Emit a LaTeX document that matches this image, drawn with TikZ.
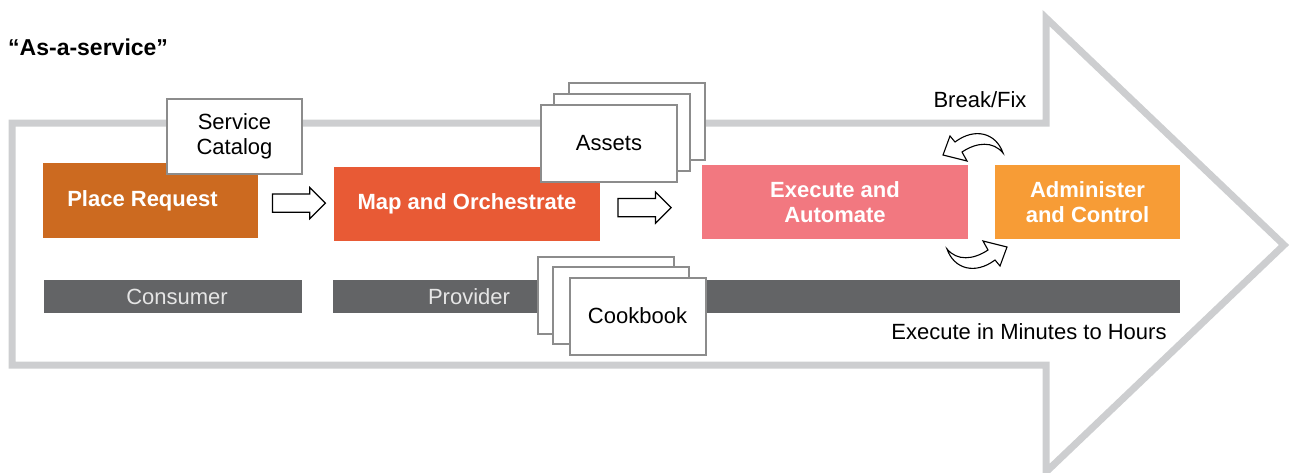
\documentclass[tikz,border=0pt]{standalone}
\usepackage{fontspec}
\setmainfont{Liberation Sans}
\usetikzlibrary{shapes.arrows,calc}

\definecolor{outlinegray}{RGB}{205,206,208}
\definecolor{cardgray}{RGB}{140,140,140}
\definecolor{placeorange}{RGB}{204,106,32}
\definecolor{maporange}{RGB}{232,90,53}
\definecolor{execpink}{RGB}{242,120,128}
\definecolor{adminorange}{RGB}{247,156,54}
\definecolor{bargray}{RGB}{99,100,102}

\begin{document}
\begin{tikzpicture}[x=1pt,y=-1pt,
  every node/.style={font=\fontsize{22}{25}\selectfont},
  stepbox/.style={inner sep=0pt, align=center, text=white, font=\fontsize{22}{25}\selectfont\bfseries, minimum height=74},
  card/.style={draw=cardgray, line width=2pt, fill=white, inner sep=0pt, minimum width=136, minimum height=77, align=center},
  barbox/.style={fill=bargray, inner sep=0pt, minimum height=33, text=white!90!black},
  blockarrow/.style={single arrow, draw=black, line width=1.2pt, fill=white, inner xsep=0pt, inner ysep=8.5pt,
    minimum height=53, single arrow head extend=6.5pt, single arrow tip angle=90, anchor=west},
  bendarrow/.style={draw=black, line width=1.1pt, fill=white, line join=miter}]
\useasboundingbox (0,0) rectangle (1292,472);

% big arrow behind everything
\draw[outlinegray, line width=7pt, line join=miter] (12,123) -- (1046,123) -- (1046,18) -- (1284,245)
  -- (1046,472) -- (1046,365) -- (12,365) -- cycle;

\node[anchor=west, inner sep=0pt, font=\fontsize{23}{25}\selectfont\bfseries] (title) at (8,47) {“As-a-service”};

% steps
\node[stepbox, fill=placeorange, minimum width=215, minimum height=75] (place) at (150.5,200.5) {Place Request\hspace*{16pt}};
\node[stepbox, fill=maporange, minimum width=266] (map) at (467,204) {Map and Orchestrate};
\node[stepbox, fill=execpink, minimum width=266] (exec) at (835,202) {Execute and\\Automate};
\node[stepbox, fill=adminorange, minimum width=185] (admin) at (1087.5,202) {Administer\\and Control};

\node[card, minimum width=135, minimum height=75] (catalog) at (234.5,136.5) {Service\\Catalog};

% assets stack
\node[card] (assets3) at (636.5,121.5) {};
\node[card] (assets2) at (622,132) {};
\node[card] (assets) at (609,143) {Assets};

\node[blockarrow] (arrow1) at ($(place.east)!0.18!(map.west)+(0,2)$) {};
\node[blockarrow] (arrow2) at ($(map.east)!0.17!(exec.west)+(0,4)$) {};

% break/fix loop
\draw[bendarrow] (943,155) -- (950,136) -- (955,142) .. controls (975,127) and (996,133) .. (1003,153)
  .. controls (993,141) and (977,142) .. (962,152) -- (967,161) -- cycle;
\begin{scope}[rotate around={180:(975,201)}]
\draw[bendarrow] (943,155) -- (950,136) -- (955,142) .. controls (975,127) and (996,133) .. (1003,153)
  .. controls (993,141) and (977,142) .. (962,152) -- (967,161) -- cycle;
\end{scope}

% bars
\node[barbox, minimum width=258] (consumer) at (173,296.5) {\hspace*{8pt}Consumer};
\node[barbox, minimum width=847] (providerbar) at (756.5,296.5) {};
\node[text=white!90!black] (provider) at (469,297) {Provider};

% cookbook stack
\node[card] (cookbook3) at (606,295) {};
\node[card] (cookbook2) at (620.5,305.5) {};
\node[card] (cookbook) at (637.5,316) {Cookbook};

\node[anchor=east] (breakfix) at (1030,100) {Break/Fix};
\node (duration) at (1029,332) {Execute in Minutes to Hours};

\end{tikzpicture}
\end{document}
